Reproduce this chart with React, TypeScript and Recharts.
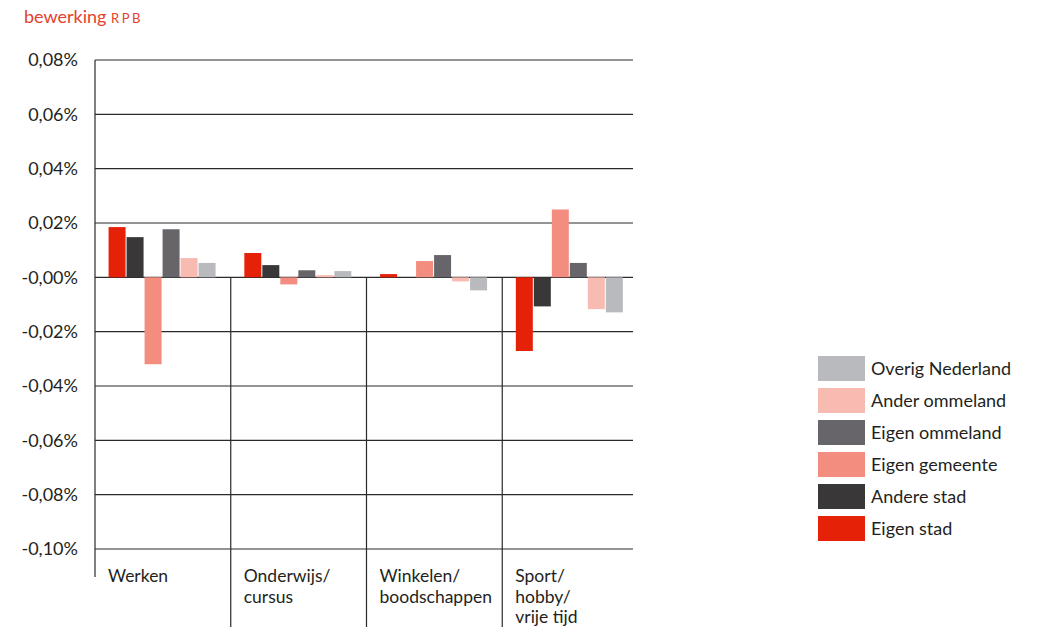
import React from "react";
import { BarChart, Bar, XAxis, YAxis, CartesianGrid } from "recharts";

const categories = ["Werken", "Onderwijs/\ncursus", "Winkelen/\nboodschappen", "Sport/\nhobby/\nvrije tijd"];
const eigenStad = [0.0185, 0.009, 0.0012, -0.0271];
const andereStad = [0.0148, 0.0045, 0, -0.0107];
const eigenGemeente = [-0.032, -0.0026, 0.006, 0.025];
const eigenOmmeland = [0.0177, 0.0026, 0.0082, 0.0053];
const anderOmmeland = [0.0071, 0.0008, -0.0015, -0.0117];
const overigNederland = [0.0053, 0.0023, -0.0048, -0.0129];
const yTicks = [-0.1, -0.08, -0.06, -0.04, -0.02, 0, 0.02, 0.04, 0.06, 0.08];

const seriesDefs = [
  { key: "eigenStad", name: "Eigen stad", color: "#e52207", values: eigenStad },
  { key: "andereStad", name: "Andere stad", color: "#3a3739", values: andereStad },
  { key: "eigenGemeente", name: "Eigen gemeente", color: "#f28d80", values: eigenGemeente },
  { key: "eigenOmmeland", name: "Eigen ommeland", color: "#67656a", values: eigenOmmeland },
  { key: "anderOmmeland", name: "Ander ommeland", color: "#f8bbb2", values: anderOmmeland },
  { key: "overigNederland", name: "Overig Nederland", color: "#b9babd", values: overigNederland },
];

const data = categories.map((c, i) => {
  const row: Record<string, any> = { cat: c };
  seriesDefs.forEach((s) => (row[s.key] = s.values[i]));
  return row;
});

const W = 1039;
const H = 627;
const plotLeft = 95;
const plotRight = 638;
const plotTop = 60;
const plotBottom = 549;
const yMin = -0.1;
const yMax = 0.08;
const zeroY = plotTop + ((plotBottom - plotTop) * yMax) / (yMax - yMin);
const band = (plotRight - plotLeft) / categories.length;
const FONT = "Lato, 'Open Sans', sans-serif";
const TEXT = "#231f20";
const LINE = "#2a2a2a";

const fmt = (v: number) => {
  if (Math.abs(v) < 1e-9) return "-0,00%";
  return (v < 0 ? "-" : "") + Math.abs(v).toFixed(2).replace(".", ",") + "%";
};

const CatTick = (props: any) => {
  const { x, payload, index } = props;
  const left = x - band / 2;
  const lines = String(payload.value).split("\n");
  return (
    <g>
      {index === 0 ? (
        <line x1={left} x2={left} y1={plotBottom} y2={577} stroke={LINE} strokeWidth={1.2} />
      ) : (
        <line x1={left} x2={left} y1={zeroY} y2={H} stroke={LINE} strokeWidth={1.2} />
      )}
      <text x={left + 13} y={582} fill={TEXT} fontSize={17.5} fontFamily={FONT}>
        {lines.map((l, i) => (
          <tspan key={i} x={left + 13} dy={i === 0 ? 0 : 20.5}>
            {l}
          </tspan>
        ))}
      </text>
    </g>
  );
};

const LegendBlock = () => (
  <div style={{ position: "absolute", left: 818, top: 352, fontFamily: FONT }}>
    {[...seriesDefs].reverse().map((s) => (
      <div key={s.key} style={{ display: "flex", alignItems: "center", height: 32 }}>
        <div style={{ width: 47, height: 25, background: s.color }} />
        <span style={{ marginLeft: 6, fontSize: 18, color: TEXT, whiteSpace: "nowrap" }}>{s.name}</span>
      </div>
    ))}
  </div>
);

const gridLine = (p: any) => (
  <line
    key={`g-${p.y1}-${p.index}`}
    x1={p.x1}
    x2={p.x2 - 5}
    y1={p.y1}
    y2={p.y2}
    stroke={LINE}
    strokeWidth={1.2}
  />
);

export default function App() {
  return (
    <div style={{ position: "absolute", left: 0, top: 0, width: W, height: H, background: "#fff" }}>
      <div
        style={{
          position: "absolute",
          left: 24,
          top: 5,
          color: "#e5412c",
          fontFamily: FONT,
          fontSize: 18,
          fontWeight: 400,
          whiteSpace: "nowrap",
        }}
      >
        bewerking <span style={{ fontSize: 13, letterSpacing: 2.5 }}>RPB</span>
      </div>
      <BarChart
        width={W}
        height={H}
        data={data}
        margin={{ top: plotTop, right: W - plotRight, bottom: 0, left: 0 }}
        barCategoryGap="10%"
        barGap={1}
      >
        <CartesianGrid vertical={false} horizontal={gridLine} />
        <XAxis
          dataKey="cat"
          axisLine={false}
          tickLine={false}
          interval={0}
          height={H - plotBottom}
          tick={<CatTick />}
        />
        <YAxis
          width={plotLeft}
          domain={[yMin, yMax]}
          ticks={yTicks}
          tickFormatter={fmt}
          axisLine={{ stroke: LINE, strokeWidth: 1.2 }}
          tickLine={false}
          tickMargin={11}
          tick={{ fill: TEXT, fontSize: 18, fontFamily: FONT }}
        />
        {seriesDefs.map((s) => (
          <Bar key={s.key} dataKey={s.key} name={s.name} fill={s.color} isAnimationActive={false} />
        ))}
      </BarChart>
      <LegendBlock />
    </div>
  );
}
